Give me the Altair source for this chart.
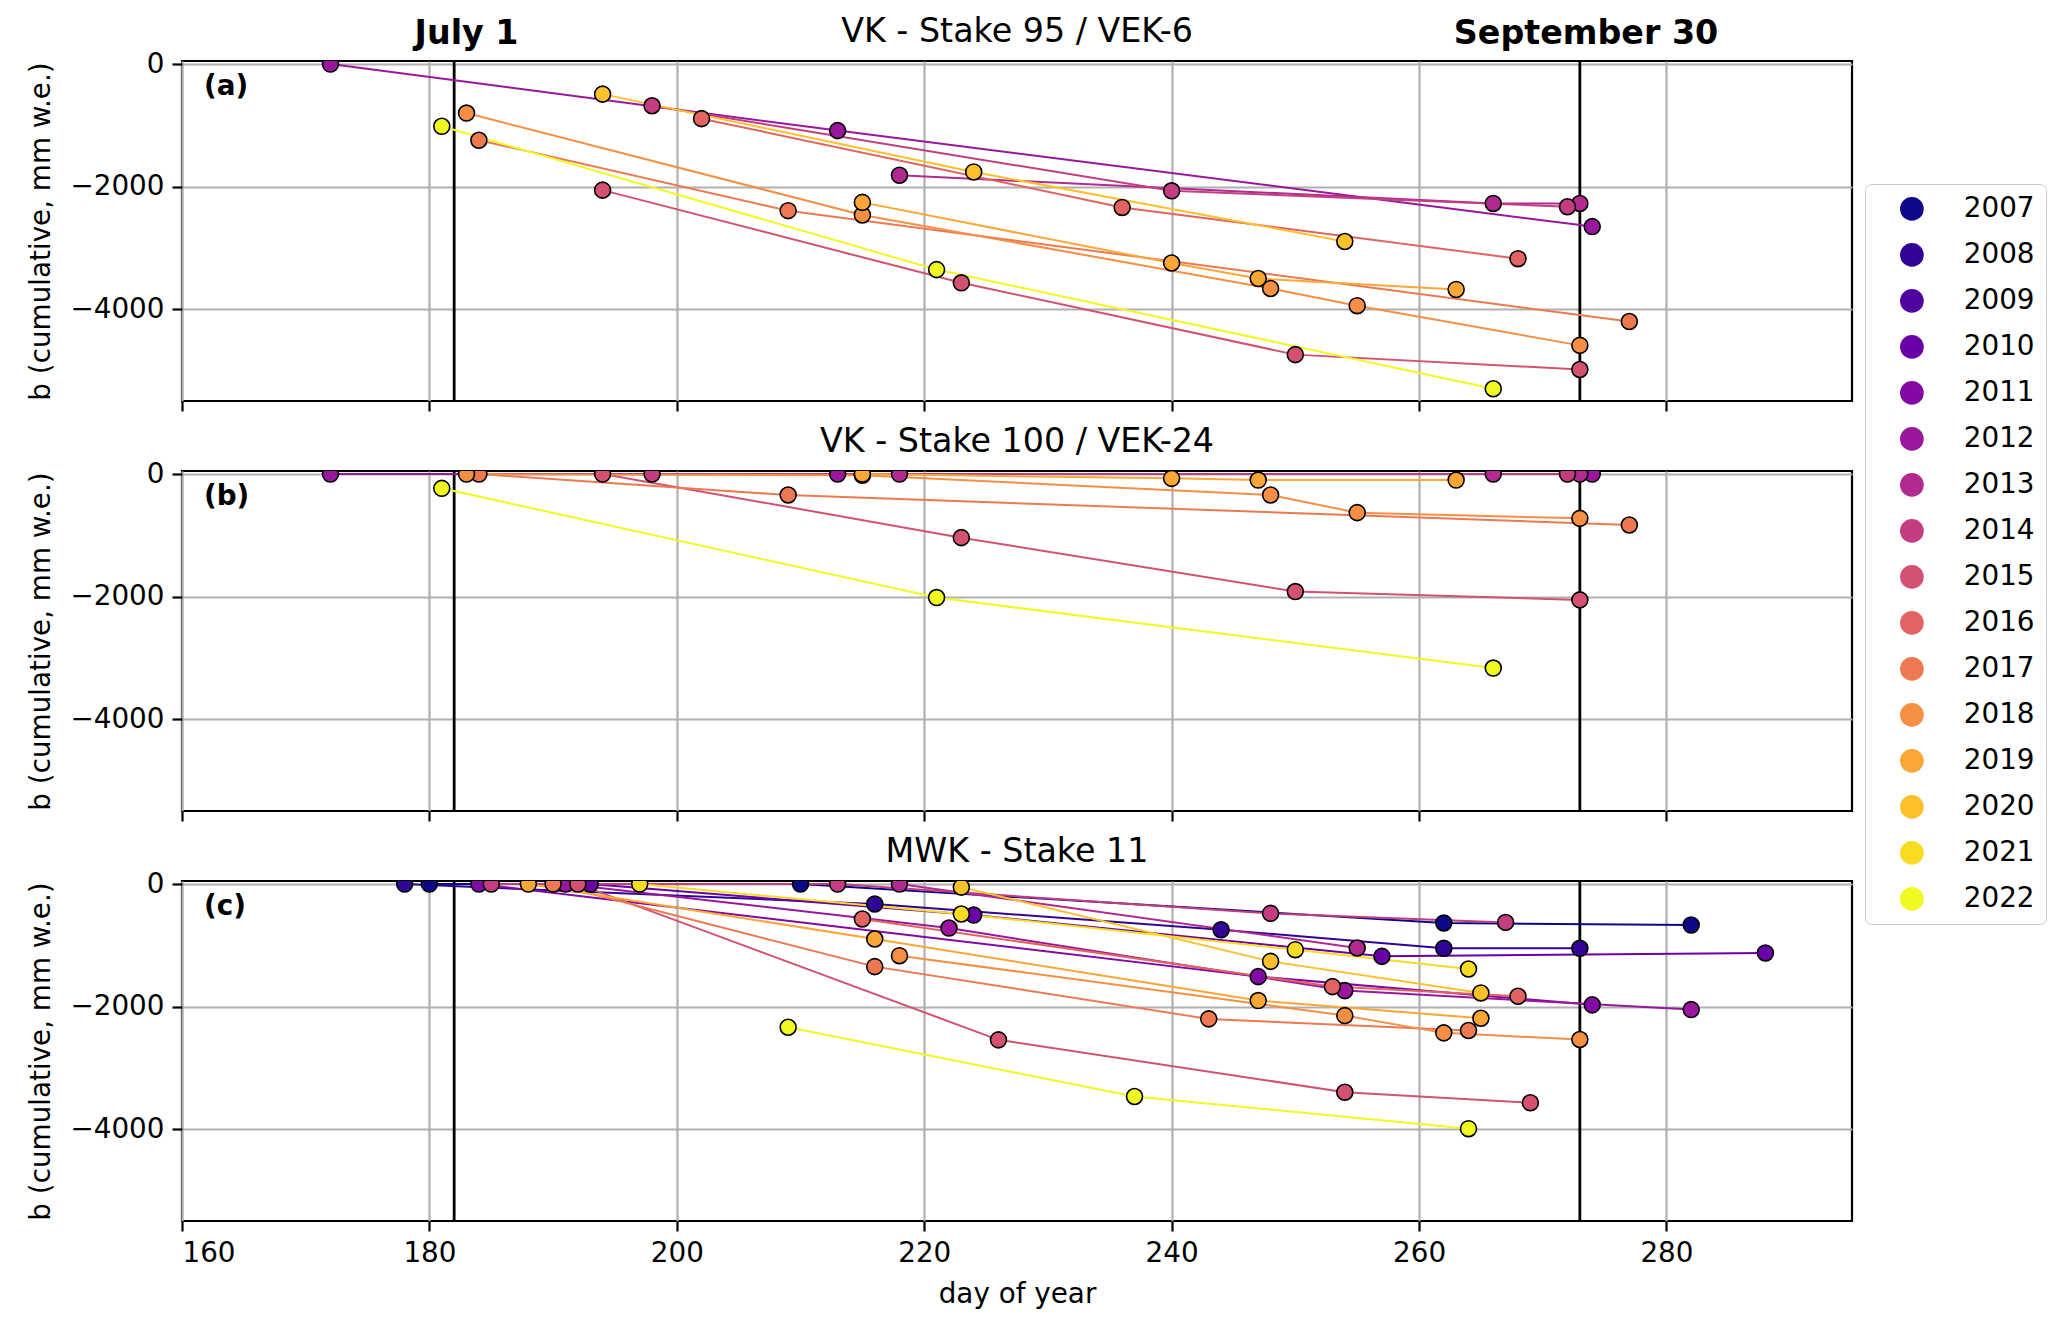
import pandas as pd
import altair as alt

years = list(range(2007, 2023))
year_colors = ["#0d0887", "#300596", "#4f03a1", "#6a00a8", "#8309a5", "#9a179d",
               "#b12a90", "#c33d80", "#d35171", "#e16462", "#ec7952", "#f58f44",
               "#fca636", "#fcc12a", "#f8dc24", "#f0f921"]

panel_titles = ["VK - Stake 95 / VEK-6", "VK - Stake 100 / VEK-24", "MWK - Stake 11"]
panel_tags = ["(a)", "(b)", "(c)"]
x_ticks = [160, 180, 200, 220, 240, 260, 280]
y_ticks = [0, -2000, -4000]
season_days = [182, 273]
season_labels = ["July 1", "September 30"]
season_label_days = [183, 273.5]

# (a) VK - Stake 95 / VEK-6
a_year = [2012, 2012, 2012, 2013, 2013, 2013, 2014, 2014, 2014,
          2015, 2015, 2015, 2015, 2016, 2016, 2016, 2017, 2017, 2017,
          2018, 2018, 2018, 2018, 2018, 2019, 2019, 2019, 2019,
          2020, 2020, 2020, 2022, 2022, 2022]
a_day = [172, 213, 274, 218, 266, 273, 198, 240, 272,
         194, 223, 250, 273, 202, 236, 268, 184, 209, 277,
         183, 215, 248, 255, 273, 215, 240, 247, 263,
         194, 224, 254, 181, 221, 266]
a_b = [0, -1086, -2653, -1815, -2275, -2275, -681, -2069, -2329,
       -2058, -3571, -4743, -4986, -891, -2340, -3177, -1243, -2393, -4203,
       -800, -2463, -3663, -3944, -4592, -2258, -3247, -3501, -3679,
       -491, -1761, -2896, -1016, -3355, -5300]

# (b) VK - Stake 100 / VEK-24
b_year = [2012, 2012, 2012, 2013, 2013, 2013, 2014, 2014,
          2015, 2015, 2015, 2015, 2017, 2017, 2017,
          2018, 2018, 2018, 2018, 2018, 2019, 2019, 2019, 2019,
          2022, 2022, 2022]
b_day = [172, 213, 274, 218, 266, 273, 198, 272,
         194, 223, 250, 273, 184, 209, 277,
         183, 215, 248, 255, 273, 215, 240, 247, 263,
         181, 221, 266]
b_b = [0, 0, 0, 0, 0, 0, 0, 0,
       0, -1038, -1918, -2054, 0, -342, -831,
       0, -20, -342, -630, -723, 0, -70, -98, -98,
       -233, -2016, -3167]

# (c) MWK - Stake 11
c_year = [2007, 2007, 2007, 2007, 2008, 2008, 2008, 2008, 2008,
          2010, 2010, 2010, 2010, 2011, 2011, 2011, 2012, 2012, 2012, 2012,
          2013, 2013, 2014, 2014, 2014, 2014, 2015, 2015, 2015, 2015,
          2016, 2016, 2016, 2017, 2017, 2017, 2017, 2018, 2018, 2018, 2018,
          2019, 2019, 2019, 2019, 2020, 2020, 2020, 2021, 2021, 2021, 2021,
          2022, 2022, 2022]
c_day = [180, 210, 262, 282, 178, 216, 244, 262, 273,
         193, 224, 257, 288, 184, 247, 274, 191, 222, 254, 282,
         218, 255, 185, 213, 248, 267, 192, 226, 254, 269,
         215, 253, 268, 190, 216, 243, 264, 218, 254, 262, 273,
         188, 216, 247, 265, 223, 248, 265, 197, 223, 250, 264,
         209, 237, 264]
c_b = [0, 0, -636, -668, 0, -326, -745, -1049, -1049,
       0, -506, -1180, -1125, 0, -1511, -1972, 0, -718, -1739, -2049,
       0, -1043, 0, 0, -479, -626, 0, -2543, -3397, -3570,
       -571, -1674, -1832, 0, -1348, -2201, -2391, -1169, -2147, -2429, -2538,
       0, -897, -1902, -2191, -50, -1262, -1777, 0, -489, -1071, -1386,
       -2337, -3467, -3993]

W, H = 1670, 340
FONT = "DejaVu Sans"


def make_panel(year, day, b, title, tag, bottom, first):
    df = pd.DataFrame({"year": year, "day": day, "b": b})
    df["line_year"] = df["year"].astype(str)
    x_scale = alt.Scale(domain=[160, 295], nice=False, zero=False)
    y_scale = alt.Scale(domain=[-5500, 50], nice=False, zero=False)
    x_axis = dict(values=x_ticks, labels=bottom, grid=True)
    if bottom:
        x_axis["title"] = "day of year"
    else:
        x_axis["title"] = None
    x = alt.X("day:Q", scale=x_scale, axis=alt.Axis(**x_axis))
    y = alt.Y("b:Q", scale=y_scale,
              axis=alt.Axis(values=y_ticks, format="d", title="b (cumulative, mm w.e.)"))

    base = alt.Chart(df)
    season = pd.DataFrame({"day": season_days, "label": season_labels,
                           "label_day": season_label_days})
    rules = alt.Chart(season).mark_rule(color="black", strokeWidth=2.8).encode(
        x=alt.X("day:Q", scale=x_scale))
    lines = base.mark_line(strokeWidth=2, clip=True).encode(
        x=x, y=y,
        stroke=alt.Stroke("line_year:N",
                          scale=alt.Scale(domain=[str(v) for v in years], range=year_colors),
                          legend=None),
        order="day:Q",
    )
    fill_scale = alt.Scale(domain=years, range=year_colors)
    if first:
        fill = alt.Fill("year:N", scale=fill_scale,
                        legend=alt.Legend(title=None, orient="none", legendX=1683, legendY=123,
                                          symbolType="circle", symbolSize=560, symbolStrokeWidth=0,
                                          symbolOffset=22, labelOffset=38, rowPadding=17,
                                          labelFontSize=27.8, labelFont=FONT, labelColor="black",
                                          padding=11, strokeColor="#cccccc", fillColor="white",
                                          cornerRadius=6))
    else:
        fill = alt.Fill("year:N", scale=fill_scale, legend=None)
    points = base.mark_circle(size=255, opacity=1, stroke="black", strokeWidth=1.6, clip=True).encode(
        x=alt.X("day:Q", scale=x_scale), y=alt.Y("b:Q", scale=y_scale), fill=fill)
    title_txt = alt.Chart(pd.DataFrame({"t": [title]})).mark_text(
        font=FONT, fontSize=33.3, color="black", baseline="alphabetic", align="center"
    ).encode(text="t:N", x=alt.value(W / 2), y=alt.value(-19))
    tag_txt = alt.Chart(pd.DataFrame({"t": [tag]})).mark_text(
        font=FONT, fontSize=27.8, fontWeight="bold", color="black", baseline="middle", align="left"
    ).encode(text="t:N", x=alt.value(22), y=alt.value(26))

    layers = [rules, lines, points, title_txt, tag_txt]
    if first:
        season_txt = alt.Chart(season).mark_text(
            font=FONT, fontSize=33.3, fontWeight="bold", color="black", baseline="alphabetic"
        ).encode(x=alt.X("label_day:Q", scale=x_scale), y=alt.value(-17), text="label:N")
        layers.append(season_txt)
    return alt.layer(*layers).properties(width=W, height=H)


pa = make_panel(a_year, a_day, a_b, panel_titles[0], panel_tags[0], False, True)
pb = make_panel(b_year, b_day, b_b, panel_titles[1], panel_tags[1], False, False)
pc = make_panel(c_year, c_day, c_b, panel_titles[2], panel_tags[2], True, False)

chart = alt.vconcat(pa, pb, pc, spacing=70, bounds="flush").resolve_scale(
    fill="independent", stroke="independent"
).resolve_legend(
    fill="independent", stroke="independent"
).properties(
    padding={"left": 18, "top": 5, "right": 2, "bottom": 5}
).configure_view(
    stroke="black", strokeWidth=2.2
).configure_axis(
    labelFont=FONT, labelFontSize=27.8, labelColor="black",
    titleFont=FONT, titleFontSize=27.8, titleFontWeight="normal", titleColor="black",
    gridColor="#b0b0b0", gridWidth=2.2, gridOpacity=1,
    tickColor="black", tickWidth=2.2, tickSize=10, labelPadding=8,
    domain=False, titlePadding=14,
)

chart.save("out.html", embed_options={"renderer": "svg", "actions": False})
